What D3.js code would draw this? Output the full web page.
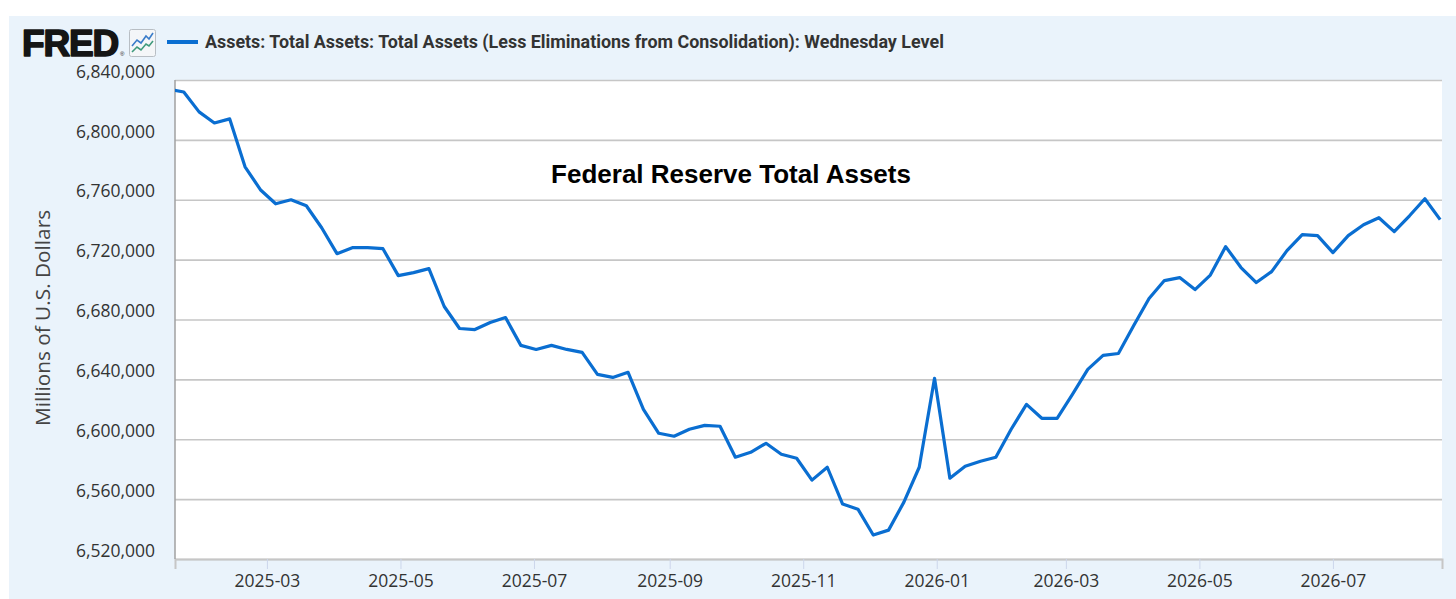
<!DOCTYPE html>
<html>
<head>
<meta charset="utf-8">
<script src="https://cdn.jsdelivr.net/npm/d3@7"></script>
<style>
  html, body { margin: 0; padding: 0; background: #ffffff; }
  svg { display: block; }
</style>
</head>
<body>
<svg id="chart" width="1456" height="599"></svg>
<script>
// ---------------- DATA ----------------
const chartTitle = "Federal Reserve Total Assets";
const seriesName = "Assets: Total Assets: Total Assets (Less Eliminations from Consolidation): Wednesday Level";
const yAxisTitle = "Millions of U.S. Dollars";

const dates = [
  "2025-01-15","2025-01-22","2025-01-29","2025-02-05","2025-02-12","2025-02-19","2025-02-26",
  "2025-03-05","2025-03-12","2025-03-19","2025-03-26","2025-04-02","2025-04-09","2025-04-16",
  "2025-04-23","2025-04-30","2025-05-07","2025-05-14","2025-05-21","2025-05-28","2025-06-04",
  "2025-06-11","2025-06-18","2025-06-25","2025-07-02","2025-07-09","2025-07-16","2025-07-23",
  "2025-07-30","2025-08-06","2025-08-13","2025-08-20","2025-08-27","2025-09-03","2025-09-10",
  "2025-09-17","2025-09-24","2025-10-01","2025-10-08","2025-10-15","2025-10-22","2025-10-29",
  "2025-11-05","2025-11-12","2025-11-19","2025-11-26","2025-12-03","2025-12-10","2025-12-17",
  "2025-12-24","2025-12-31","2026-01-07","2026-01-14","2026-01-21","2026-01-28","2026-02-04",
  "2026-02-11","2026-02-18","2026-02-25","2026-03-04","2026-03-11","2026-03-18","2026-03-25",
  "2026-04-01","2026-04-08","2026-04-15","2026-04-22","2026-04-29","2026-05-06","2026-05-13",
  "2026-05-20","2026-05-27","2026-06-03","2026-06-10","2026-06-17","2026-06-24","2026-07-01",
  "2026-07-08","2026-07-15","2026-07-22","2026-07-29","2026-08-05","2026-08-12","2026-08-19"
];

const values = [
  6834000,6832000,6818700,6811300,6814000,6782000,6766700,
  6757300,6760000,6756000,6741300,6724000,6728000,6728000,
  6727300,6709300,6711300,6714000,6688700,6674000,6673300,
  6678000,6681300,6662700,6660000,6662700,6660000,6658000,
  6643300,6641300,6644700,6620000,6604000,6602000,6606700,
  6609300,6608700,6588000,6591300,6597300,6590000,6587300,
  6572700,6581300,6556700,6553300,6536000,6539300,6558000,
  6581300,6640700,6574000,6582000,6585300,6588000,6606700,
  6623300,6614000,6614000,6630000,6646700,6656000,6657300,
  6676000,6694000,6706000,6708000,6700000,6709700,6728700,
  6714700,6704700,6712000,6726000,6736700,6736000,6724700,
  6736000,6743300,6748000,6738700,6749300,6760700,6746700
];

const xDomain = ["2025-01-18T00:00", "2026-08-19T20:00"];
const xTickLabels = ["2025-03","2025-05","2025-07","2025-09","2025-11","2026-01","2026-03","2026-05","2026-07"];
const yTicks = [6520000,6560000,6600000,6640000,6680000,6720000,6760000,6800000,6840000];

// ---------------- LAYOUT ----------------
const svg = d3.select("#chart");
const W = 1456, H = 599;
const plot = { left: 175, top: 80, right: 1442, bottom: 559 };
const blue = "#0a6ed1";
const textCol = "#333333";

// outer panel
svg.append("rect").attr("x", 9).attr("y", 16).attr("width", W - 9).attr("height", H - 16)
  .attr("fill", "#eaf3fb");

// plot background
svg.append("rect").attr("x", plot.left).attr("y", plot.top)
  .attr("width", plot.right - plot.left).attr("height", plot.bottom - plot.top)
  .attr("fill", "#ffffff");

const parseDay = d3.utcParse("%Y-%m-%d");
const parseDT = d3.utcParse("%Y-%m-%dT%H:%M");
const parseMonth = d3.utcParse("%Y-%m");

const data = dates.map((d, i) => ({ date: parseDay(d), value: values[i] }));

const x = d3.scaleUtc().domain(xDomain.map(parseDT)).range([plot.left, plot.right]);
const y = d3.scaleLinear().domain([6520000, 6840000]).range([plot.bottom, plot.top]);

// gridlines + y labels
const yAxisG = svg.append("g")
  .attr("transform", `translate(${plot.left},0)`)
  .call(d3.axisLeft(y).tickValues(yTicks).tickSize(-(plot.right - plot.left)).tickFormat(d3.format(",")));
yAxisG.select(".domain").remove();
yAxisG.selectAll(".tick line").attr("stroke", "#c6c6c6").attr("stroke-width", 1.6);
yAxisG.selectAll(".tick text")
  .attr("x", -20).attr("dy", "-0.16em")
  .attr("fill", textCol)
  .style("font-family", "'Open Sans', sans-serif")
  .style("font-size", "17.5px")
  .attr("text-anchor", "end");

// x axis
const xAxisG = svg.append("g")
  .attr("transform", `translate(0,${plot.bottom})`)
  .call(d3.axisBottom(x).tickValues(xTickLabels.map(parseMonth)).tickSize(10).tickPadding(6)
    .tickFormat(d3.utcFormat("%Y-%m")));
xAxisG.select(".domain").attr("stroke", "#c6c6c6").attr("stroke-width", 2);
xAxisG.selectAll(".tick line").attr("stroke", "#ccd6eb").attr("stroke-width", 1);
xAxisG.selectAll(".tick text")
  .attr("fill", textCol)
  .style("font-family", "'Open Sans', sans-serif")
  .style("font-size", "17.5px");

// left axis line
svg.append("line").attr("x1", plot.left).attr("x2", plot.left)
  .attr("y1", plot.top).attr("y2", plot.bottom)
  .attr("stroke", "#a0a0a0").attr("stroke-width", 1.5);

// clip + line
svg.append("clipPath").attr("id", "plotClip").append("rect")
  .attr("x", plot.left).attr("y", plot.top - 5)
  .attr("width", plot.right - plot.left).attr("height", plot.bottom - plot.top + 10);

const line = d3.line().x(d => x(d.date)).y(d => y(d.value));
svg.append("path").datum(data)
  .attr("clip-path", "url(#plotClip)")
  .attr("fill", "none").attr("stroke", blue).attr("stroke-width", 3.2)
  .attr("stroke-linejoin", "round")
  .attr("d", line);

// chart title inside plot
svg.append("text").attr("x", 731).attr("y", 183)
  .attr("text-anchor", "middle")
  .style("font-family", "'Liberation Sans', Arial, sans-serif")
  .style("font-weight", "bold").style("font-size", "26px")
  .attr("fill", "#000").text(chartTitle);

// y axis title
svg.append("text")
  .attr("transform", `translate(50,318) rotate(-90)`)
  .attr("text-anchor", "middle")
  .style("font-family", "'Open Sans', sans-serif")
  .style("font-size", "20.8px")
  .attr("fill", "#444").text(yAxisTitle);

// FRED logo
svg.append("text").attr("x", 22).attr("y", 56)
  .style("font-family", "'Liberation Sans', Arial, sans-serif")
  .style("font-weight", "bold").style("font-size", "37px")
  .style("letter-spacing", "-1.2px")
  .attr("fill", "#151515").attr("stroke", "#151515").attr("stroke-width", 1.6)
  .attr("stroke-linejoin", "round")
  .text("FRED");
svg.append("text").attr("x", 120).attr("y", 56)
  .style("font-family", "'Liberation Sans', Arial, sans-serif")
  .style("font-size", "6px").attr("fill", "#151515").text("®");
// small graph icon
const icon = svg.append("g").attr("transform", "translate(129,29)");
icon.append("rect").attr("x", 0.5).attr("y", 0.5).attr("width", 26).attr("height", 27).attr("rx", 2)
  .attr("fill", "#f4f6f8").attr("stroke", "#b8bec4").attr("stroke-width", 1);
icon.append("path").attr("d", "M3,17 L8,11 L12,14 L17,7 L20,10 L24,4")
  .attr("fill", "none").attr("stroke", "#3a7cc9").attr("stroke-width", 1.6);
icon.append("path").attr("d", "M3,23 L8,18 L12,21 L17,15 L20,17 L24,12")
  .attr("fill", "none").attr("stroke", "#3f9a7c").attr("stroke-width", 1.6);

// legend
svg.append("line").attr("x1", 167).attr("x2", 198).attr("y1", 42).attr("y2", 42)
  .attr("stroke", blue).attr("stroke-width", 4);
svg.append("text").attr("x", 205).attr("y", 48.4)
  .style("font-family", "Roboto, sans-serif")
  .style("font-weight", "bold").style("font-size", "17.9px")
  .attr("fill", textCol).text(seriesName);
</script>
</body>
</html>
